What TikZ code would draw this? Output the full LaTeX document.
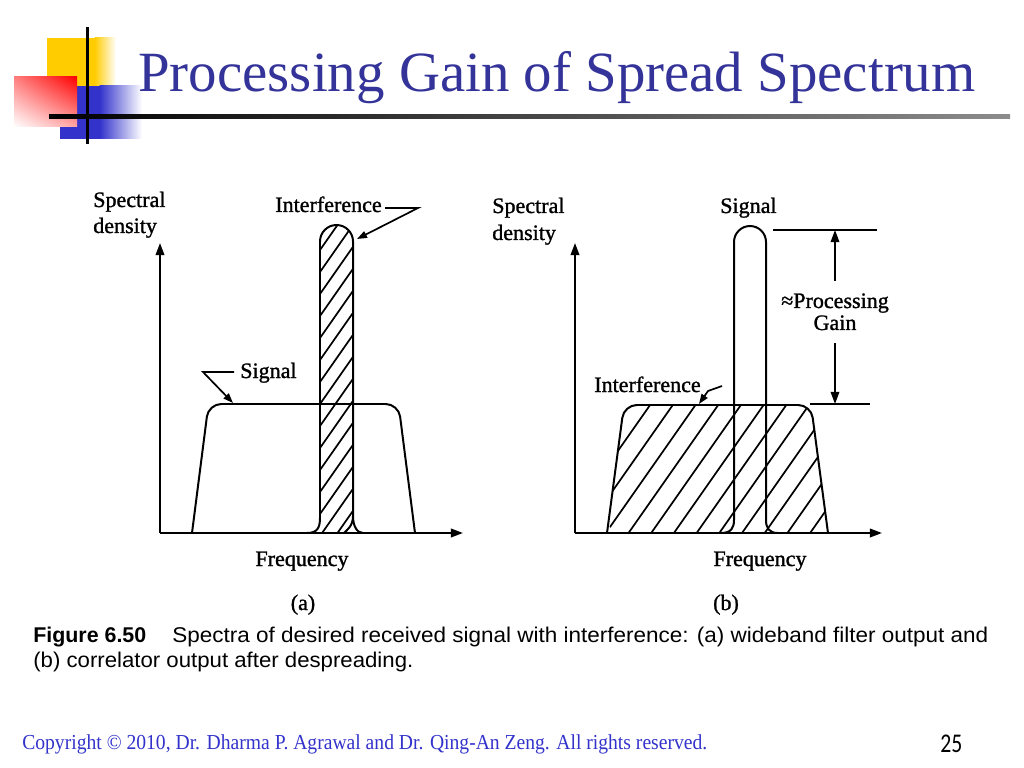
\documentclass[tikz,border=0pt]{standalone}
\usepackage{fontspec}
\setmainfont{Liberation Serif}
\newfontfamily\figfont[FakeBold=1.2]{Liberation Serif}
\newfontfamily\capfont{Liberation Sans}
\newfontfamily\pagefont{Carlito}
\usetikzlibrary{arrows.meta,shadings}
\newdimen\pxu \pxu=0.703125pt
\definecolor{titleblue}{RGB}{51,51,153}
\definecolor{footblue}{RGB}{51,51,204}
\definecolor{logoyellow}{RGB}{255,204,0}
\definecolor{logoblue}{RGB}{51,51,204}
\tikzset{
  fig/.style={line width=1.4pt, black},
  hatch/.style={line width=1.2pt, black},
  axis/.style={fig, -{Triangle[length=8.5pt,width=6pt]}},
  lead/.style={line width=1.2pt, -{Triangle[length=7pt,width=5pt]}},
  dim/.style={line width=1.2pt, -{Triangle[length=8.5pt,width=6pt]}},
  thin/.style={line width=1.2pt},
  lab/.style={font=\figfont\fontsize{15.5}{18}\selectfont, inner sep=0pt},
  capt/.style={anchor=base west, inner sep=0pt, font=\capfont\fontsize{15}{18}\selectfont},
  captb/.style={anchor=base west, inner sep=0pt, font=\capfont\bfseries\fontsize{15}{18}\selectfont},
}
\begin{document}
\begin{tikzpicture}[x=0.703125pt, y=-0.703125pt]
\useasboundingbox (0,0) rectangle (1024,768);
\fill[white] (0,0) rectangle (1024,768);

% ---------- logo ----------
\fill[logoyellow] (47,38) rectangle (95,87);
\shade[left color=logoyellow, right color=white] (94.5,38) rectangle (116,87);
\fill[logoblue] (60,86) rectangle (100,139);
\shade[left color=logoblue, right color=white] (99.5,86) rectangle (142,139);
\shade[upper left=red!50, upper right=red, lower left=white, lower right=red!35] (14,77) rectangle (77,127);
\fill[black] (85.5,27) rectangle (88.5,144);
\shade[left color=black, right color=black!45] (49,115) rectangle (1010,119);

% ---------- title ----------
\node[anchor=base west, inner sep=0pt, font=\fontsize{40}{48}\selectfont, text=titleblue] (title) at (138,92) {Processing Gain of Spread Spectrum};

% ---------- left figure (a) ----------
\coordinate (oA) at (160,533);
\coordinate (ytipA) at (160,243);
\coordinate (xtipA) at (463,533);
\draw[axis] (oA) -- (ytipA);
\draw[axis] (oA) -- (xtipA);

\draw[fig, rounded corners=9pt] (192,533) -- (208.5,404) -- (398.5,404) -- (415,533);

\begin{scope}
\clip (307,533) .. controls (317,533) and (320,528) .. (320,518) -- (320,241.5)
  .. controls (320,232.4) and (327.4,225) .. (336.5,225)
  .. controls (345.6,225) and (353,232.4) .. (353,241.5) -- (353,516)
  .. controls (353,526) and (347,530) .. (344,533) -- cycle;
\foreach \k in {-3,...,15} \draw[hatch] (300,{250+22*\k+28.6}) -- (370,{250+22*\k-71.5});
\end{scope}
\draw[fig] (307,533) .. controls (317,533) and (320,528) .. (320,518) -- (320,241.5)
  .. controls (320,232.4) and (327.4,225) .. (336.5,225)
  .. controls (345.6,225) and (353,232.4) .. (353,241.5) -- (353,516)
  .. controls (353,526) and (357,533) .. (363,533);
\draw[fig] (353,516) .. controls (353,526) and (347,530) .. (344,533);

\node[lab, anchor=base west] (spA1) at (93,207) {Spectral};
\node[lab, anchor=base west] (spA2) at (93,233) {density};
\node[lab, anchor=base west] (intA) at (275,212) {Interference};
\coordinate (intAs) at (385,208);
\coordinate (intAk) at (418,208);
\coordinate (intAt) at (357,239);
\draw[lead] (intAs) -- (intAk) -- (intAt);
\node[lab, anchor=base west] (sigA) at (240,378) {Signal};
\coordinate (sigAs) at (234,372);
\coordinate (sigAk) at (203,372);
\coordinate (sigAt) at (233,403);
\draw[lead] (sigAs) -- (sigAk) -- (sigAt);
\node[lab, anchor=base] (frA) at (302,566) {Frequency};
\node[lab, anchor=base] (capA) at (303,610) {(a)};

% ---------- right figure (b) ----------
\coordinate (oB) at (575,533);
\coordinate (ytipB) at (575,243);
\coordinate (xtipB) at (882,533);
\draw[axis] (oB) -- (ytipB);
\draw[axis] (oB) -- (xtipB);

\begin{scope}
\clip[rounded corners=9pt] (607,533) -- (624,405) -- (811,405) -- (828,533) -- cycle;
\foreach \k in {-5,...,10} \draw[hatch] ({606+22.7*\k-10},547) -- ({606+22.7*\k+100},390);
\end{scope}
\draw[fig, rounded corners=9pt] (607,533) -- (624,405) -- (811,405) -- (828,533);

\draw[fig] (721,533) .. controls (731,533) and (734,528) .. (734,520) -- (734,242)
  .. controls (734,233.2) and (741.2,226) .. (750,226)
  .. controls (758.8,226) and (766,233.2) .. (766,242) -- (766,520)
  .. controls (766,528) and (769,533) .. (778,533);

\node[lab, anchor=base west] (spB1) at (492,213) {Spectral};
\node[lab, anchor=base west] (spB2) at (492,240) {density};
\node[lab, anchor=base west] (sigB) at (720,213) {Signal};
\node[lab, anchor=base west] (intB) at (594,392) {Interference};
\coordinate (intBs) at (722,386);
\coordinate (intBk) at (708,391);
\coordinate (intBt) at (699,404);
\draw[lead] (intBs) -- (intBk) -- (intBt);

\coordinate (dTopL) at (773,230);
\coordinate (dTopR) at (877,230);
\coordinate (dBotL) at (810,404);
\coordinate (dBotR) at (870,404);
\draw[thin] (dTopL) -- (dTopR);
\draw[thin] (dBotL) -- (dBotR);
\node[lab, anchor=base] (pg1) at (835,308) {≈Processing};
\node[lab, anchor=base] (pg2) at (835,330) {Gain};
\coordinate (dUpS) at (835,281);
\coordinate (dUpT) at (835,230);
\coordinate (dDnS) at (835,343);
\coordinate (dDnT) at (835,404);
\draw[dim] (dUpS) -- (dUpT);
\draw[dim] (dDnS) -- (dDnT);

\node[lab, anchor=base] (frB) at (760,566) {Frequency};
\node[lab, anchor=base] (capB) at (726,610) {(b)};

% ---------- caption ----------
\node[captb] (figno) at (33,642) {\resizebox{113\pxu}{\height}{Figure 6.50}};
\node[capt] (cap1) at (172,642) {\resizebox{816\pxu}{\height}{Spectra of desired received signal with interference: (a) wideband filter output and}};
\node[capt] (cap2) at (33,667) {\resizebox{380\pxu}{\height}{(b) correlator output after despreading.}};

% ---------- footer ----------
\node[anchor=base west, inner sep=0pt, text=footblue, font=\fontsize{15}{18}\selectfont] (copy) at (22,749) {\resizebox{685\pxu}{\height}{Copyright © 2010, Dr. Dharma P. Agrawal and Dr. Qing-An Zeng. All rights reserved.}};
\node[anchor=base west, inner sep=0pt, font=\pagefont\fontsize{19}{22}\selectfont] (pnum) at (940,752) {\resizebox{22\pxu}{\height}{25}};
\end{tikzpicture}
\end{document}
